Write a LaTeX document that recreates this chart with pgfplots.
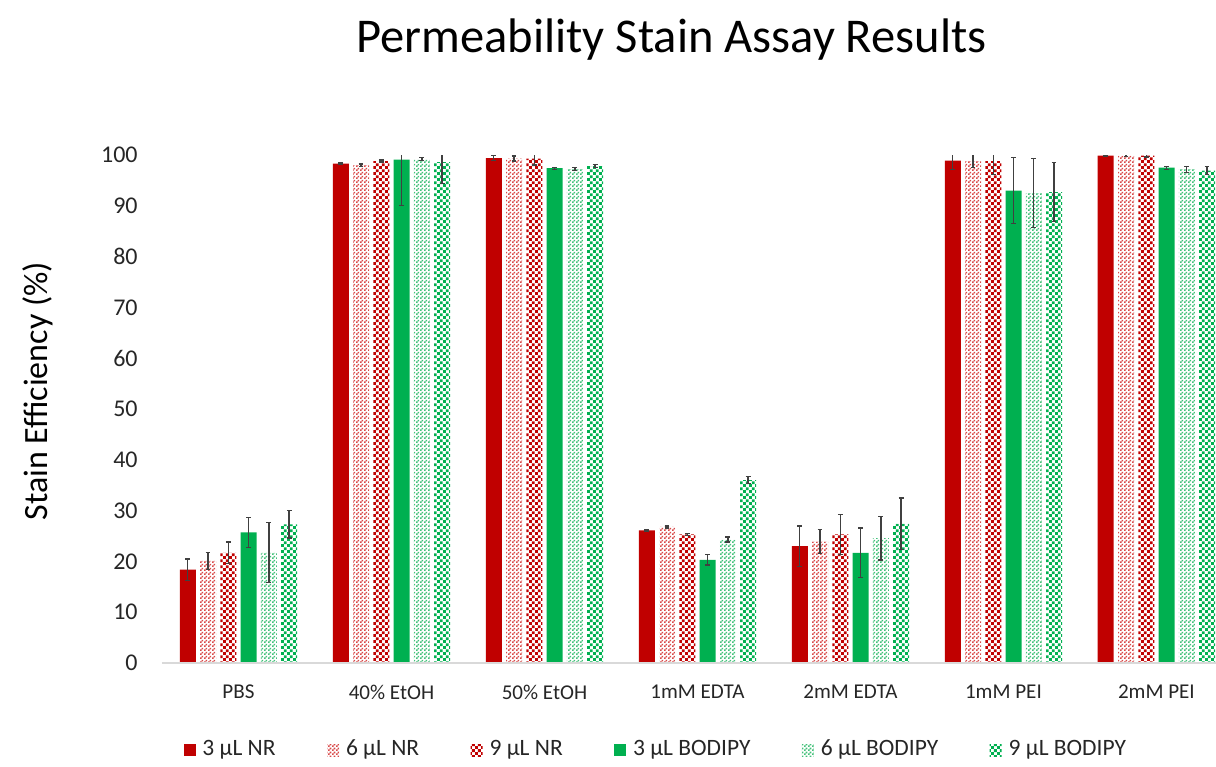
\documentclass[border=0pt]{standalone}
\usepackage{fontspec}
\setmainfont{Carlito}
\usepackage{pgfplots}
\pgfplotsset{compat=1.18}
\usetikzlibrary{patterns}
\definecolor{nrred}{HTML}{C00000}
\definecolor{nrlight}{HTML}{D84848}
\definecolor{bdgreen}{HTML}{00B050}
\definecolor{bdlight}{HTML}{40C078}
\definecolor{errgray}{HTML}{404040}
\pgfdeclarepatternformonly{checkS}{\pgfpointorigin}{\pgfpoint{1.5pt}{1.5pt}}{\pgfpoint{1.5pt}{1.5pt}}{%
  \pgfpathrectangle{\pgfpointorigin}{\pgfpoint{0.75pt}{0.75pt}}%
  \pgfpathrectangle{\pgfpoint{0.75pt}{0.75pt}}{\pgfpoint{0.75pt}{0.75pt}}%
  \pgfusepath{fill}}
\pgfdeclarepatternformonly{checkL}{\pgfpointorigin}{\pgfpoint{2.2pt}{2.2pt}}{\pgfpoint{2.2pt}{2.2pt}}{%
  \pgfpathrectangle{\pgfpointorigin}{\pgfpoint{1.1pt}{1.1pt}}%
  \pgfpathrectangle{\pgfpoint{1.1pt}{1.1pt}}{\pgfpoint{1.1pt}{1.1pt}}%
  \pgfusepath{fill}}
\begin{document}
\begin{tikzpicture}
\begin{axis}[
  scale only axis,
  width=401.6pt, height=190.5pt,
  xmin=-0.5, xmax=6.5, ymin=0, ymax=100,
  ybar=1.6pt, bar width=6pt,
  xtick={0,1,2,3,4,5,6},
  xticklabels={PBS,40\% EtOH,50\% EtOH,1mM EDTA,2mM EDTA,1mM PEI,2mM PEI},
  ytick={0,10,...,100},
  axis line style={draw=none},
  major tick length=0pt,
  /pgf/number format/assume math mode=true,
  yticklabel style={font=\fontsize{9}{11}\selectfont, color=black!85, xshift=-5.6pt},
  xticklabel style={font=\fontsize{7.9}{9}\selectfont, color=black!85, yshift=-4.6pt},
  title={Permeability Stain Assay Results},
  title style={font=\fontsize{18.2}{21}\selectfont, at={(axis description cs:0.4757,1.171)}, anchor=base},
  ylabel={Stain Efficiency (\%)},
  ylabel style={font=\fontsize{12.75}{15}\selectfont, at={(axis description cs:-0.1158,0.535)}, anchor=center},
  error bars/y dir=both, error bars/y explicit,
  error bars/error bar style={color=errgray, line width=0.5pt},
  error bars/error mark options={rotate=90, mark size=0.9pt, color=errgray, line width=0.5pt},
  legend columns=6,
  legend style={at={(axis description cs:0.0196,-0.1713)}, anchor=west, draw=none, fill=none,
    inner sep=0pt, font=\fontsize{8.8}{10.5}\selectfont, text=black!85,
    /tikz/every odd column/.append style={column sep=0.6pt},
    /tikz/every even column/.append style={column sep=17.3pt}},
  legend image code/.code={\path[#1,draw=none] (0pt,-2.25pt) rectangle (4.5pt,2.25pt);},
]
\addplot[fill=nrred, draw=none] coordinates {
 (0,18.4) +- (0,2.1) (1,98.3) +- (0,0.1) (2,99.4) +- (0,0.5) (3,26.1) +- (0,0.1)
 (4,23.0) +- (0,4.0) (5,98.9) +- (0,1.7) (6,99.9) +- (0,0.1)};
\addplot[pattern=checkS, pattern color=nrlight, draw=none] coordinates {
 (0,20.1) +- (0,1.7) (1,98.0) +- (0,0.2) (2,99.3) +- (0,0.5) (3,26.8) +- (0,0.2)
 (4,23.9) +- (0,2.4) (5,98.8) +- (0,1.3) (6,99.9) +- (0,0.2)};
\addplot[pattern=checkL, pattern color=nrred, draw=none] coordinates {
 (0,21.7) +- (0,2.1) (1,98.8) +- (0,0.2) (2,99.3) +- (0,1.3) (3,25.3) +- (0,0.2)
 (4,25.3) +- (0,3.9) (5,98.8) +- (0,2.7) (6,99.9) +- (0,0.3)};
\addplot[fill=bdgreen, draw=none] coordinates {
 (0,25.7) +- (0,3.0) (1,99.1) +- (0,9.0) (2,97.4) +- (0,0.2) (3,20.3) +- (0,1.0)
 (4,21.7) +- (0,4.9) (5,93.0) +- (0,6.5) (6,97.5) +- (0,0.3)};
\addplot[pattern=checkS, pattern color=bdlight, draw=none] coordinates {
 (0,21.7) +- (0,5.9) (1,99.2) +- (0,0.3) (2,97.2) +- (0,0.3) (3,24.3) +- (0,0.5)
 (4,24.6) +- (0,4.3) (5,92.5) +- (0,6.8) (6,97.2) +- (0,0.6)};
\addplot[pattern=checkL, pattern color=bdgreen, draw=none] coordinates {
 (0,27.3) +- (0,2.7) (1,98.6) +- (0,4.2) (2,97.8) +- (0,0.3) (3,36.0) +- (0,0.7)
 (4,27.4) +- (0,5.1) (5,92.7) +- (0,5.8) (6,96.9) +- (0,0.8)};
\legend{3 µL NR,6 µL NR,9 µL NR,3 µL BODIPY,6 µL BODIPY,9 µL BODIPY}
\draw[black!15, line width=0.6pt] (axis cs:-0.5,0) -- (axis cs:6.5,0);
\end{axis}
\pgfresetboundingbox
\path[use as bounding box] (-60.75pt,-38.625pt) rectangle (395.25pt,248.625pt);
\end{tikzpicture}
\end{document}
